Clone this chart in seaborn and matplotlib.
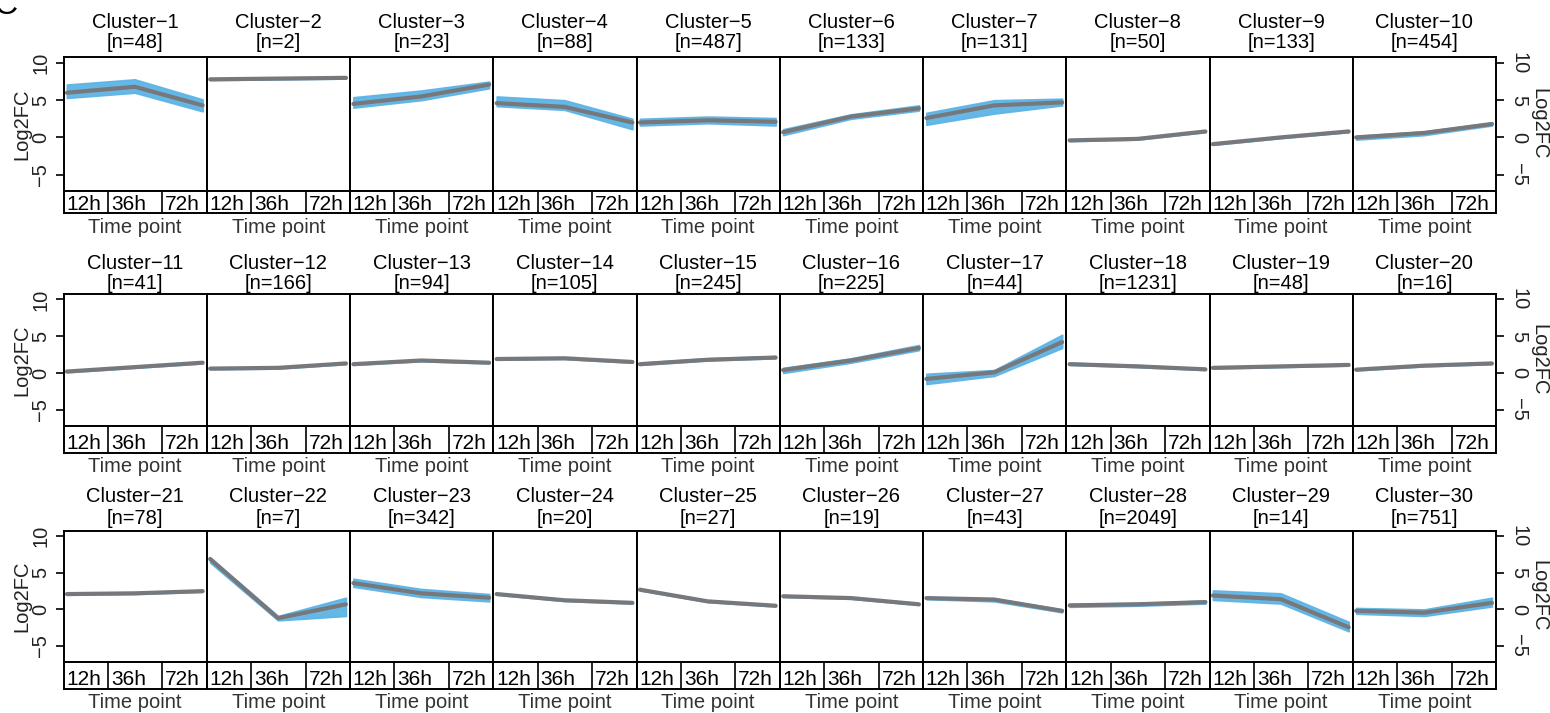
import numpy as np
import pandas as pd
import matplotlib
matplotlib.use("Agg")
import matplotlib.pyplot as plt
import seaborn as sns

# ── Data ──────────────────────────────────────────────────────────────────────
cluster_n = [48, 2, 23, 88, 487, 133, 131, 50, 133, 454,
             41, 166, 94, 105, 245, 225, 44, 1231, 48, 16,
             78, 7, 342, 20, 27, 19, 43, 2049, 14, 751]
time_labels = ["12h", "36h", "72h"]

# mean Log2FC per cluster at 12h / 36h / 72h
mean_fc = [
    [6.0, 6.8, 4.3], [7.8, 7.9, 8.0], [4.5, 5.5, 7.1], [4.6, 4.1, 2.0], [2.0, 2.3, 2.1],
    [0.7, 2.8, 3.9], [2.6, 4.3, 4.7], [-0.4, -0.2, 0.8], [-0.9, 0.0, 0.8], [0.0, 0.6, 1.8],
    [0.2, 0.8, 1.4], [0.6, 0.7, 1.3], [1.2, 1.7, 1.4], [1.9, 2.0, 1.5], [1.2, 1.8, 2.1],
    [0.4, 1.7, 3.4], [-0.8, 0.1, 4.2], [1.2, 0.9, 0.5], [0.7, 0.9, 1.1], [0.45, 1.0, 1.3],
    [2.1, 2.2, 2.5], [6.9, -1.2, 0.7], [3.6, 2.2, 1.6], [2.1, 1.25, 0.9], [2.7, 1.1, 0.5],
    [1.8, 1.55, 0.7], [1.55, 1.35, -0.2], [0.55, 0.7, 1.0], [1.9, 1.4, -2.45], [-0.2, -0.45, 0.9],
]
# upper / lower edge of the shaded band
upper_fc = [
    [7.1, 7.8, 5.1], [7.9, 8.0, 8.1], [5.4, 6.3, 7.5], [5.5, 5.0, 2.5], [2.5, 2.8, 2.6],
    [1.1, 3.1, 4.3], [3.3, 5.0, 5.2], [-0.3, -0.1, 0.9], [-0.8, 0.1, 0.9], [0.2, 0.8, 2.0],
    [0.3, 0.9, 1.5], [0.7, 0.8, 1.4], [1.3, 1.8, 1.5], [2.0, 2.1, 1.6], [1.4, 2.0, 2.3],
    [0.7, 2.0, 3.8], [-0.1, 0.4, 5.2], [1.4, 1.1, 0.6], [0.8, 1.0, 1.2], [0.55, 1.1, 1.4],
    [2.2, 2.3, 2.6], [7.1, -0.9, 1.6], [4.2, 2.8, 2.1], [2.2, 1.35, 1.0], [2.8, 1.2, 0.6],
    [1.9, 1.65, 0.8], [1.7, 1.5, 0.0], [0.75, 0.9, 1.2], [2.6, 2.2, -1.7], [0.2, 0.0, 1.6],
]
lower_fc = [
    [5.3, 6.0, 3.5], [7.7, 7.8, 7.9], [4.0, 5.0, 6.6], [4.2, 3.7, 1.1], [1.6, 1.9, 1.6],
    [0.3, 2.5, 3.6], [1.7, 3.2, 4.3], [-0.5, -0.3, 0.7], [-1.0, -0.1, 0.7], [-0.3, 0.3, 1.6],
    [0.1, 0.7, 1.3], [0.5, 0.6, 1.2], [1.1, 1.6, 1.3], [1.8, 1.9, 1.4], [1.1, 1.7, 2.0],
    [0.0, 1.4, 3.1], [-1.5, -0.4, 3.4], [1.1, 0.8, 0.4], [0.6, 0.8, 1.0], [0.35, 0.9, 1.2],
    [2.0, 2.1, 2.4], [6.4, -1.5, -0.9], [3.1, 1.7, 1.1], [2.0, 1.15, 0.8], [2.6, 1.0, 0.4],
    [1.7, 1.45, 0.6], [1.4, 1.1, -0.4], [0.35, 0.5, 0.8], [1.3, 0.8, -3.0], [-0.6, -0.9, 0.4],
]

rows = []
for i in range(30):
    for j, t in enumerate(time_labels):
        rows.append({"cluster": i + 1, "time": t, "pos": j,
                     "mean": mean_fc[i][j], "hi": upper_fc[i][j], "lo": lower_fc[i][j]})
df = pd.DataFrame(rows)

# ── Style ─────────────────────────────────────────────────────────────────────
sns.set_theme(style="white")
plt.rcParams["font.family"] = ["Liberation Sans", "DejaVu Sans"]
plt.rcParams["axes.unicode_minus"] = True

W, H = 1550, 713
fig = plt.figure(figsize=(W / 100, H / 100), dpi=100)

def fx(x):
    return x / W

def fy(y):
    return 1 - y / H

line_col = "#77787c"
band_col = "#5db4e5"
txt_col = "#222222"
fs = 14.5

x0, pw = 63.5, 143.25
# plot top, plot bottom, label box bottom
row_geo = [(57, 191, 212.5), (293.5, 426, 452.7), (530.5, 662, 688.7)]
title_y = [(22.7, 43.0), (263.3, 283.3), (496.7, 518.0)]
tp_y = [227, 466.7, 702]
dividers = [0.31, 0.69]

for r in range(3):
    top, bot, boxbot = row_geo[r]
    for c in range(10):
        k = r * 10 + c
        left = x0 + c * pw
        ax = fig.add_axes([fx(left), fy(bot), pw / W, (bot - top) / H])
        sub = df[df["cluster"] == k + 1]
        ax.fill_between(sub["pos"], sub["lo"], sub["hi"], color=band_col,
                        alpha=0.95, lw=1.2, edgecolor=band_col)
        sns.lineplot(data=sub, x="pos", y="mean", color=line_col, lw=3.0,
                     ax=ax, legend=False)
        ax.set_xlim(-0.05, 2.06)
        ax.set_ylim(-7.2, 10.8)
        ax.set_xticks([])
        ax.set_xlabel("")
        ax.set_ylabel("")
        for s in ax.spines.values():
            s.set_color("black")
            s.set_linewidth(1.4)
            s.set_visible(True)
        ax.set_yticks([-5, 0, 5, 10])
        if c == 0:
            ax.tick_params(axis="y", left=True, right=False, labelleft=True,
                           length=6, width=1.2, pad=3.5, labelsize=fs,
                           labelcolor=txt_col, color="black")
            for lab in ax.get_yticklabels():
                lab.set_rotation(90)
                lab.set_va("center")
        elif c == 9:
            ax.yaxis.tick_right()
            ax.tick_params(axis="y", left=False, right=True, labelright=True,
                           labelleft=False, length=6, width=1.2, pad=3.5,
                           labelsize=fs, labelcolor=txt_col, color="black")
            for lab in ax.get_yticklabels():
                lab.set_rotation(-90)
                lab.set_va("center")
        else:
            ax.set_yticklabels([])
            ax.tick_params(axis="y", left=False, right=False)

        # time point box under the panel
        bx = fig.add_axes([fx(left), fy(boxbot), pw / W, (boxbot - bot) / H])
        bx.set_xlim(0, 1)
        bx.set_ylim(0, 1)
        bx.set_xticks([])
        bx.set_yticks([])
        for s in bx.spines.values():
            s.set_color("black")
            s.set_linewidth(1.4)
            s.set_visible(True)
        for d in dividers:
            bx.axvline(d, color="black", lw=1.2)
        for xt, lab in zip([0.02] + [d + 0.02 for d in dividers], time_labels):
            bx.text(xt, 0.13, lab, ha="left", va="baseline", fontsize=15,
                    color="black")

        cx = fx(left + pw / 2)
        fig.text(cx, fy(title_y[r][0]), f"Cluster\u2212{k + 1}", ha="center",
                 va="center", fontsize=fs, color="black")
        fig.text(cx, fy(title_y[r][1]), f"[n={cluster_n[k]}]", ha="center",
                 va="center", fontsize=fs, color="black")
        fig.text(cx, fy(tp_y[r]), "Time point", ha="center", va="center",
                 fontsize=fs, color="#333333")

    mid = (top + bot) / 2
    fig.text(fx(22), fy(mid), "Log2FC", rotation=90, ha="center", va="center",
             fontsize=fs, color=txt_col)
    fig.text(fx(1539), fy(mid), "Log2FC", rotation=-90, ha="center", va="center",
             fontsize=fs, color=txt_col)

# panel letter, partly cut off at the corner as in the source figure
fig.text(fx(-7), fy(14), "C", ha="left", va="baseline", fontsize=24, color="black")

fig.savefig("out.png", dpi=100)
plt.close(fig)
